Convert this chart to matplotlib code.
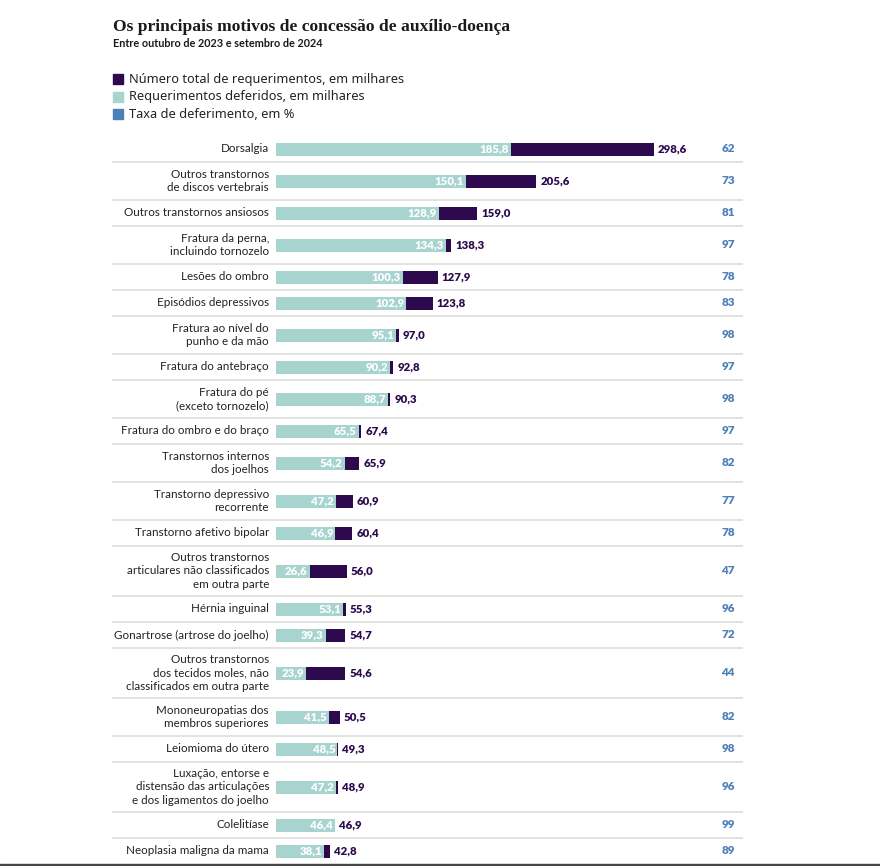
import numpy as np
import matplotlib
matplotlib.use("Agg")
import matplotlib.pyplot as plt
import matplotlib.transforms as mtransforms
from matplotlib.patches import Rectangle

# data (thousands of requests / %)
categories = [
    "Dorsalgia",
    "Outros transtornos\nde discos vertebrais",
    "Outros transtornos ansiosos",
    "Fratura da perna,\nincluindo tornozelo",
    "Lesões do ombro",
    "Episódios depressivos",
    "Fratura ao nível do\npunho e da mão",
    "Fratura do antebraço",
    "Fratura do pé\n(exceto tornozelo)",
    "Fratura do ombro e do braço",
    "Transtornos internos\ndos joelhos",
    "Transtorno depressivo\nrecorrente",
    "Transtorno afetivo bipolar",
    "Outros transtornos\narticulares não classificados\nem outra parte",
    "Hérnia inguinal",
    "Gonartrose (artrose do joelho)",
    "Outros transtornos\ndos tecidos moles, não\nclassificados em outra parte",
    "Mononeuropatias dos\nmembros superiores",
    "Leiomioma do útero",
    "Luxação, entorse e\ndistensão das articulações\ne dos ligamentos do joelho",
    "Colelitíase",
    "Neoplasia maligna da mama",
]
total = [298.6, 205.6, 159.0, 138.3, 127.9, 123.8, 97.0, 92.8, 90.3, 67.4, 65.9,
         60.9, 60.4, 56.0, 55.3, 54.7, 54.6, 50.5, 49.3, 48.9, 46.9, 42.8]
deferidos = [185.8, 150.1, 128.9, 134.3, 100.3, 102.9, 95.1, 90.2, 88.7, 65.5, 54.2,
             47.2, 46.9, 26.6, 53.1, 39.3, 23.9, 41.5, 48.5, 47.2, 46.4, 38.1]
taxa = [62, 73, 81, 97, 78, 83, 98, 97, 98, 97, 82, 77, 78, 47, 96, 72, 44, 82, 98, 96, 99, 89]

DARK = "#2c0a4d"
TEAL = "#a7d4cf"
BLUE = "#4a7fb8"
GREY_TXT = "#222222"

W, H = 880, 866
fig = plt.figure(figsize=(W / 100, H / 100), dpi=100)
fig.patch.set_facecolor("white")


def fy(px):
    return 1 - px / H


# title, subtitle
fig.text(113 / W, fy(31), "Os principais motivos de concessão de auxílio-doença",
         family="Liberation Serif", weight="bold", fontsize=12.6, color="#1a1a1a",
         va="baseline", ha="left")
fig.text(113 / W, fy(47), "Entre outubro de 2023 e setembro de 2024",
         family="Lato", weight="bold", fontsize=7.8, color="#1a1a1a",
         va="baseline", ha="left")

# legend
legend_items = [(DARK, "Número total de requerimentos, em milhares"),
                (TEAL, "Requerimentos deferidos, em milhares"),
                (BLUE, "Taxa de deferimento, em %")]
for i, (c, txt) in enumerate(legend_items):
    yc = 79 + i * 17.5
    fig.patches.append(Rectangle((113 / W, fy(yc + 5)), 10 / W, 10 / H,
                                 transform=fig.transFigure, color=c))
    fig.text(129 / W, fy(yc), txt, family="Noto Sans", fontsize=9.2,
             color=GREY_TXT, va="center", ha="left")

# row layout from number of label lines
nlines = np.array([c.count("\n") + 1 for c in categories])
heights = 14 + 12 * nlines
edges = np.concatenate([[0], np.cumsum(heights)])
centers = (edges[:-1] + edges[1:]) / 2

left_px, right_px, zero_px = 112, 743, 276
top_px = 136
k = 1.266  # px per unit
ax = fig.add_axes([left_px / W, fy(top_px + edges[-1]), (right_px - left_px) / W, edges[-1] / H])
ax.set_xlim(-(zero_px - left_px) / k, (right_px - zero_px) / k)
ax.set_ylim(edges[-1], 0)
ax.axis("off")

bar_h = 13
ax.barh(centers, total, height=bar_h, color=DARK, left=0)
ax.barh(centers, deferidos, height=bar_h, color=TEAL, left=0)

for e in edges[1:-1]:
    ax.axhline(e, color="#dddddd", lw=1.2)

lab_tr = mtransforms.offset_copy(ax.transData, fig=fig, x=-7, y=0, units="dots")
in_tr = mtransforms.offset_copy(ax.transData, fig=fig, x=-2, y=0, units="dots")
out_tr = mtransforms.offset_copy(ax.transData, fig=fig, x=4, y=0, units="dots")
rate_tr = mtransforms.offset_copy(
    mtransforms.blended_transform_factory(ax.transAxes, ax.transData),
    fig=fig, x=-8, y=0, units="dots")

for yc, cat, t, d, r in zip(centers, categories, total, deferidos, taxa):
    ax.text(0, yc, cat, transform=lab_tr, ha="right", va="center",
            family="Lato", fontsize=8.4, color=GREY_TXT, linespacing=1.3)
    ax.text(d, yc, f"{d:.1f}".replace(".", ","), transform=in_tr, ha="right",
            va="center", family="Lato", weight="heavy", fontsize=8.2, color="white")
    ax.text(t, yc, f"{t:.1f}".replace(".", ","), transform=out_tr, ha="left",
            va="center", family="Lato", weight="heavy", fontsize=8.2, color=DARK)
    ax.text(1, yc, str(r), transform=rate_tr, ha="right", va="center",
            family="Lato", weight="heavy", fontsize=8.4, color=BLUE)

# dark strip at the bottom edge of the screenshot
fig.patches.append(Rectangle((0, 0), 1, 2 / H, transform=fig.transFigure, color="#3f464d"))

fig.savefig("out.png", dpi=100)
